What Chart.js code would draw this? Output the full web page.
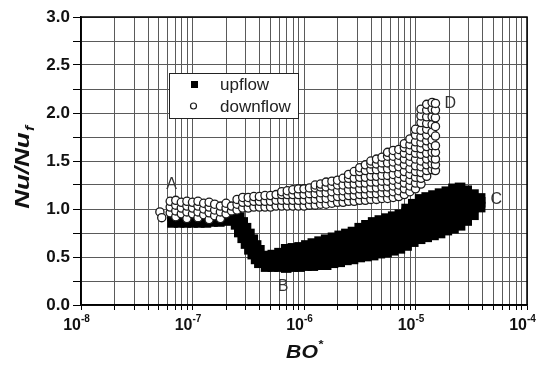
<!DOCTYPE html>
<html>
<head>
<meta charset="utf-8">
<script src="https://cdn.jsdelivr.net/npm/chart.js@4/dist/chart.umd.min.js"></script>
<style>
  html, body { margin: 0; padding: 0; background: #fff; }
  canvas { display: block; }
</style>
</head>
<body>
<canvas id="chart" width="544" height="372"></canvas>
<script>
// x axis: BO*, log scale, one grid line per 1..9 x decade
var xDecades = [1e-8, 1e-7, 1e-6, 1e-5, 1e-4];
var xMultipliers = [1, 2, 3, 4, 5, 6, 7, 8, 9];

// y axis: Nu/Nu_f
var yMin = 0, yMax = 3.0, yGridStep = 0.25, yLabelStep = 0.5;

// upflow (filled squares), [BO*, [Nu/Nu_f ...]]
var upflowColumns = [
  [6.61e-8, [0.86, 0.93]],
  [7.59e-8, [0.86, 0.94]],
  [8.71e-8, [0.86, 0.93]],
  [1.00e-7, [0.86, 0.94]],
  [1.15e-7, [0.86, 0.93]],
  [1.32e-7, [0.86, 0.93]],
  [1.51e-7, [0.87, 0.93]],
  [1.74e-7, [0.87, 0.94]],
  [2.00e-7, [0.88, 0.95]],
  [2.29e-7, [0.92, 0.98]],
  [2.46e-7, [0.84, 0.92, 0.97]],
  [2.63e-7, [0.76, 0.84, 0.91]],
  [2.82e-7, [0.70, 0.78, 0.86]],
  [3.02e-7, [0.64, 0.72, 0.80]],
  [3.24e-7, [0.58, 0.66, 0.74]],
  [3.47e-7, [0.53, 0.61, 0.68]],
  [3.72e-7, [0.48, 0.55, 0.62]],
  [3.98e-7, [0.44, 0.50, 0.57]],
  [4.57e-7, [0.40, 0.45, 0.51]],
  [5.25e-7, [0.40, 0.46, 0.52]],
  [6.03e-7, [0.40, 0.47, 0.54]],
  [6.92e-7, [0.39, 0.46, 0.53, 0.58]],
  [7.94e-7, [0.40, 0.47, 0.54, 0.59]],
  [9.12e-7, [0.40, 0.48, 0.55, 0.60]],
  [1.05e-6, [0.41, 0.49, 0.56, 0.62]],
  [1.20e-6, [0.41, 0.49, 0.57, 0.64]],
  [1.38e-6, [0.42, 0.50, 0.58, 0.66]],
  [1.58e-6, [0.42, 0.50, 0.59, 0.68]],
  [1.82e-6, [0.44, 0.52, 0.61, 0.70]],
  [2.09e-6, [0.45, 0.53, 0.62, 0.72]],
  [2.40e-6, [0.47, 0.55, 0.64, 0.74]],
  [2.75e-6, [0.48, 0.57, 0.66, 0.76]],
  [3.16e-6, [0.50, 0.58, 0.67, 0.75, 0.80]],
  [3.63e-6, [0.51, 0.60, 0.69, 0.77, 0.83]],
  [4.17e-6, [0.52, 0.61, 0.70, 0.79, 0.86]],
  [4.79e-6, [0.54, 0.63, 0.72, 0.81, 0.88]],
  [5.50e-6, [0.55, 0.64, 0.73, 0.82, 0.90]],
  [6.31e-6, [0.57, 0.66, 0.75, 0.84, 0.92]],
  [7.24e-6, [0.59, 0.68, 0.77, 0.86, 0.94]],
  [8.32e-6, [0.62, 0.71, 0.80, 0.89, 0.96, 1.00]],
  [9.55e-6, [0.66, 0.75, 0.84, 0.93, 1.00, 1.05]],
  [1.10e-5, [0.69, 0.78, 0.87, 0.96, 1.04, 1.10]],
  [1.26e-5, [0.71, 0.80, 0.89, 0.98, 1.06, 1.12]],
  [1.45e-5, [0.73, 0.82, 0.91, 1.00, 1.08, 1.14]],
  [1.66e-5, [0.75, 0.84, 0.93, 1.02, 1.10, 1.16]],
  [1.91e-5, [0.78, 0.87, 0.96, 1.05, 1.12, 1.18]],
  [2.19e-5, [0.80, 0.89, 0.98, 1.07, 1.15, 1.21]],
  [2.51e-5, [0.83, 0.92, 1.01, 1.10, 1.17, 1.22]],
  [2.88e-5, [0.88, 0.96, 1.04, 1.12, 1.19]],
  [3.31e-5, [0.94, 1.02, 1.09, 1.15]],
  [3.80e-5, [1.02, 1.07, 1.11]]
];

// downflow (open circles), [BO*, [Nu/Nu_f ...]]
var downflowColumns = [
  [5.10e-8, [0.97]],
  [5.30e-8, [0.91]],
  [6.31e-8, [0.96, 1.02, 1.08]],
  [7.08e-8, [0.92, 0.98, 1.04, 1.09]],
  [7.94e-8, [0.95, 1.01, 1.07]],
  [8.91e-8, [0.90, 0.97, 1.03, 1.08]],
  [1.00e-7, [0.95, 1.01, 1.07]],
  [1.12e-7, [0.91, 0.97, 1.03, 1.08]],
  [1.26e-7, [0.94, 1.00, 1.06]],
  [1.41e-7, [0.89, 0.96, 1.02, 1.07]],
  [1.58e-7, [0.93, 0.99, 1.05]],
  [1.78e-7, [0.90, 0.97, 1.03]],
  [2.00e-7, [0.95, 1.01, 1.06]],
  [2.24e-7, [0.98, 1.03]],
  [2.51e-7, [0.99, 1.05, 1.10]],
  [2.82e-7, [1.01, 1.07, 1.12]],
  [3.16e-7, [1.01, 1.07, 1.12]],
  [3.55e-7, [1.02, 1.08, 1.13]],
  [3.98e-7, [1.02, 1.08, 1.13]],
  [4.47e-7, [1.02, 1.08, 1.14]],
  [5.01e-7, [1.02, 1.08, 1.14]],
  [5.62e-7, [1.03, 1.09, 1.15]],
  [6.31e-7, [1.03, 1.09, 1.15, 1.18]],
  [7.08e-7, [1.03, 1.09, 1.15, 1.19]],
  [7.94e-7, [1.03, 1.09, 1.15, 1.20]],
  [8.91e-7, [1.03, 1.09, 1.15, 1.21]],
  [1.00e-6, [1.03, 1.09, 1.15, 1.21]],
  [1.12e-6, [1.04, 1.10, 1.16, 1.22]],
  [1.26e-6, [1.04, 1.10, 1.16, 1.22, 1.25]],
  [1.41e-6, [1.05, 1.11, 1.17, 1.23, 1.26]],
  [1.58e-6, [1.05, 1.11, 1.17, 1.23, 1.28]],
  [1.78e-6, [1.06, 1.12, 1.18, 1.24, 1.29]],
  [2.00e-6, [1.07, 1.13, 1.19, 1.25, 1.30]],
  [2.24e-6, [1.07, 1.13, 1.19, 1.25, 1.32]],
  [2.51e-6, [1.08, 1.14, 1.20, 1.26, 1.32, 1.36]],
  [2.82e-6, [1.08, 1.14, 1.20, 1.26, 1.32, 1.39]],
  [3.16e-6, [1.09, 1.15, 1.21, 1.27, 1.33, 1.39, 1.43]],
  [3.55e-6, [1.09, 1.15, 1.21, 1.27, 1.33, 1.40, 1.46]],
  [3.98e-6, [1.10, 1.16, 1.22, 1.28, 1.34, 1.41, 1.47, 1.50]],
  [4.47e-6, [1.10, 1.16, 1.22, 1.28, 1.34, 1.41, 1.47, 1.52]],
  [5.01e-6, [1.11, 1.17, 1.23, 1.29, 1.35, 1.42, 1.48, 1.54]],
  [5.62e-6, [1.11, 1.17, 1.23, 1.29, 1.35, 1.42, 1.48, 1.55, 1.59]],
  [6.31e-6, [1.12, 1.18, 1.24, 1.30, 1.36, 1.43, 1.49, 1.55, 1.61]],
  [7.08e-6, [1.13, 1.19, 1.25, 1.31, 1.37, 1.44, 1.50, 1.56, 1.62]],
  [7.94e-6, [1.15, 1.21, 1.27, 1.33, 1.39, 1.46, 1.52, 1.58, 1.64, 1.68]],
  [8.91e-6, [1.18, 1.24, 1.30, 1.36, 1.42, 1.49, 1.55, 1.61, 1.67, 1.73]],
  [1.00e-5, [1.21, 1.27, 1.33, 1.39, 1.45, 1.52, 1.58, 1.64, 1.70, 1.77, 1.83]],
  [1.12e-5, [1.26, 1.32, 1.38, 1.44, 1.50, 1.57, 1.63, 1.69, 1.75, 1.82, 1.90, 1.97, 2.04]],
  [1.26e-5, [1.34, 1.40, 1.46, 1.52, 1.58, 1.65, 1.71, 1.77, 1.83, 1.89, 1.96, 2.03, 2.09]],
  [1.41e-5, [1.41, 1.47, 1.53, 1.59, 1.66, 1.72, 1.80, 1.88, 1.96, 2.04, 2.11]],
  [1.51e-5, [1.40, 1.46, 1.52, 1.59, 1.66, 1.76, 1.86, 1.95, 2.03, 2.10]]
];

// region letters written next to the data
var pointLabels = [
  { text: 'A', x: 6.5e-8, y: 1.25 },
  { text: 'B', x: 6.5e-7, y: 0.19 },
  { text: 'C', x: 5.3e-5, y: 1.10 },
  { text: 'D', x: 2.05e-5, y: 2.10 }
];

var xTickValues = [];
xDecades.forEach(function(d, i) {
  if (i == xDecades.length - 1) { xTickValues.push(d); return; }
  xMultipliers.forEach(function(m) { xTickValues.push(m * d); });
});

var toPoints = function(columns) {
  var pts = [];
  columns.forEach(function(c) {
    c[1].forEach(function(y) { pts.push({ x: c[0], y: y }); });
  });
  return pts;
};

var FONT = '"Liberation Sans", Arial, sans-serif';
var gridColor = '#5a5a5a';

var decorations = {
  id: 'decorations',
  afterDraw: function(chart) {
    var ctx = chart.ctx, area = chart.chartArea;
    var xs = chart.scales.x, ys = chart.scales.y;
    ctx.save();

    // frame
    ctx.strokeStyle = '#000';
    ctx.lineWidth = 1.5;
    ctx.strokeRect(area.left, area.top, area.right - area.left, area.bottom - area.top);

    // x tick labels as 10^n
    ctx.fillStyle = '#111';
    ctx.textBaseline = 'alphabetic';
    xDecades.forEach(function(v) {
      var px = xs.getPixelForValue(v);
      ctx.font = 'bold 16px ' + FONT;
      ctx.textAlign = 'right';
      ctx.fillText('10', px, area.bottom + 25);
      ctx.font = 'bold 10px ' + FONT;
      ctx.textAlign = 'left';
      ctx.fillText(String(Math.round(Math.log10(v))).replace('-', '\u2011'), px, area.bottom + 17);
    });

    // x title BO*
    ctx.save();
    ctx.translate((area.left + area.right) / 2 - 2, area.bottom + 53);
    ctx.scale(1.18, 1);
    ctx.font = 'italic bold 18px ' + FONT;
    ctx.textAlign = 'center';
    ctx.fillText('BO', 0, 0);
    ctx.font = 'bold 11px ' + FONT;
    ctx.textAlign = 'left';
    ctx.fillText('*', 14, -10);
    ctx.restore();

    // y title Nu/Nu_f
    ctx.save();
    ctx.translate(29, (area.top + area.bottom) / 2 + 7);
    ctx.rotate(-Math.PI / 2);
    ctx.scale(1.3, 1);
    ctx.font = 'italic bold 20px ' + FONT;
    var w1 = ctx.measureText('Nu/Nu').width;
    ctx.font = 'italic bold 12px ' + FONT;
    var w2 = ctx.measureText('f').width;
    var x0 = -(w1 + w2) / 2;
    ctx.textAlign = 'left';
    ctx.font = 'italic bold 20px ' + FONT;
    ctx.fillText('Nu/Nu', x0, 0);
    ctx.font = 'italic bold 12px ' + FONT;
    ctx.fillText('f', x0 + w1 + 1, 5);
    ctx.restore();

    // letters A..D
    ctx.font = '16px ' + FONT;
    ctx.fillStyle = '#333';
    ctx.textAlign = 'center';
    ctx.textBaseline = 'middle';
    pointLabels.forEach(function(l) {
      ctx.fillText(l.text, xs.getPixelForValue(l.x), ys.getPixelForValue(l.y));
    });

    // legend box
    var lx = area.left + 88, ly = area.top + 56;
    ctx.fillStyle = '#fff';
    ctx.fillRect(lx, ly, 129, 45);
    ctx.strokeStyle = '#222';
    ctx.lineWidth = 1;
    ctx.strokeRect(lx + 0.5, ly + 0.5, 129, 45);
    var ds = chart.data.datasets;
    ctx.fillStyle = ds[0].backgroundColor;
    ctx.fillRect(lx + 22, ly + 8, 7, 7);
    ctx.beginPath();
    ctx.arc(lx + 24.5, ly + 33, 3, 0, 2 * Math.PI);
    ctx.fillStyle = ds[1].backgroundColor;
    ctx.fill();
    ctx.lineWidth = 1.2;
    ctx.strokeStyle = ds[1].borderColor;
    ctx.stroke();
    ctx.font = '17px ' + FONT;
    ctx.fillStyle = '#222';
    ctx.textAlign = 'left';
    ctx.textBaseline = 'middle';
    ctx.fillText(ds[0].label, lx + 51, ly + 12);
    ctx.fillText(ds[1].label, lx + 51, ly + 34);

    ctx.restore();
  }
};

var canvas = document.getElementById('chart');
var chart = new Chart(canvas, {
  type: 'scatter',
  data: {
    datasets: [
      {
        label: 'upflow',
        data: toPoints(upflowColumns),
        pointStyle: 'rect',
        pointRadius: 7.5,
        backgroundColor: '#000',
        borderColor: '#000',
        borderWidth: 0,
        order: 1
      },
      {
        label: 'downflow',
        data: toPoints(downflowColumns),
        pointStyle: 'circle',
        pointRadius: 4.1,
        backgroundColor: '#fff',
        borderColor: '#1a1a1a',
        borderWidth: 1.3,
        order: 0
      }
    ]
  },
  options: {
    responsive: false,
    animation: false,
    events: [],
    layout: { padding: { top: 17, right: 17, left: 0, bottom: 0 } },
    plugins: { legend: { display: false }, tooltip: { enabled: false } },
    scales: {
      x: {
        type: 'logarithmic',
        min: xDecades[0],
        max: xDecades[xDecades.length - 1],
        afterBuildTicks: function(scale) {
          scale.ticks = xTickValues.map(function(v) { return { value: v }; });
        },
        afterFit: function(scale) { scale.height = 67; },
        ticks: { autoSkip: false, maxRotation: 0, callback: function() { return ''; } },
        grid: { color: gridColor, lineWidth: 1, tickLength: 5, tickColor: '#000' },
        border: { color: '#000', width: 1.5 }
      },
      y: {
        min: yMin,
        max: yMax,
        afterFit: function(scale) { scale.width = 81; },
        ticks: {
          stepSize: yGridStep,
          padding: 3,
          color: '#111',
          font: { family: FONT, size: 17, weight: 'bold' },
          callback: function(v) {
            return Math.round(v * 100) % Math.round(yLabelStep * 100) == 0 ? v.toFixed(1) : '';
          }
        },
        grid: { color: gridColor, lineWidth: 1, tickLength: 8, tickColor: '#000' },
        border: { color: '#000', width: 1.5 }
      }
    }
  },
  plugins: [decorations]
});
</script>
</body>
</html>
